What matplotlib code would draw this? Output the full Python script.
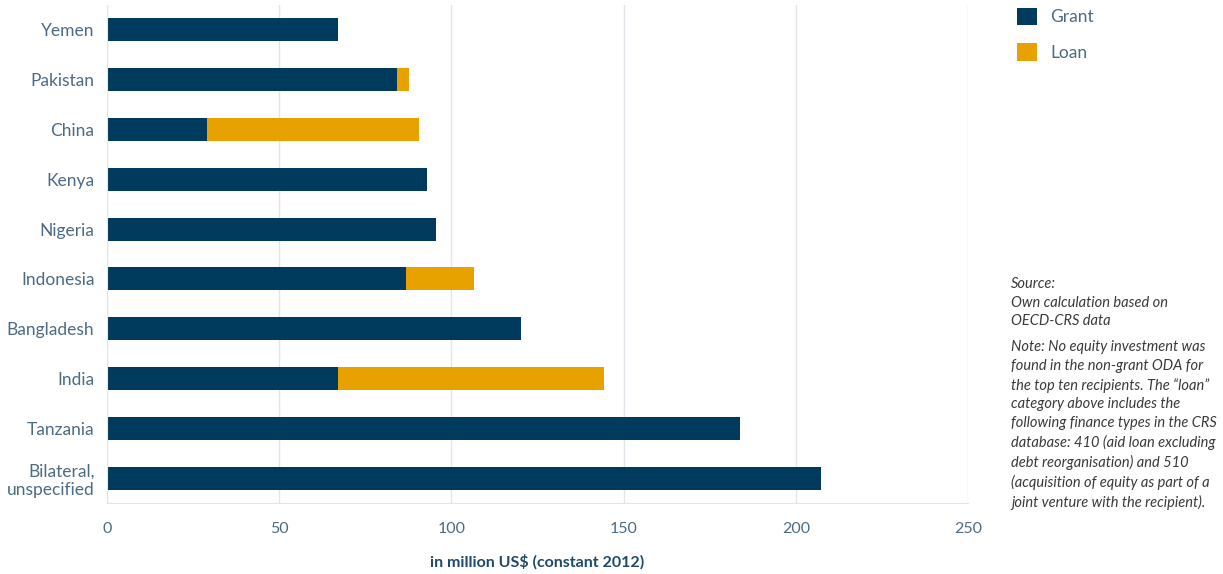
import matplotlib.pyplot as plt
import numpy as np

plt.rcParams['font.family'] = 'Lato'

# Data (bottom to top)
countries = ["Bilateral,\nunspecified", "Tanzania", "India", "Bangladesh",
             "Indonesia", "Nigeria", "Kenya", "China", "Pakistan", "Yemen"]
grant = [207.3, 183.7, 67.2, 120.2, 86.8, 95.4, 93.0, 29.1, 84.1, 67.2]
loan = [0, 0, 77.2, 0, 19.8, 0, 0, 61.4, 3.6, 0]
ticks = [0, 50, 100, 150, 200, 250]

navy = '#003b5e'
gold = '#e8a200'
label_col = '#4b6b86'

fig = plt.figure(figsize=(12.23, 5.74), dpi=100)
ax = fig.add_axes([107/1223, 1 - 503/574, 861/1223, 498/574])

y = np.arange(len(countries))
ax.barh(y, grant, height=0.46, color=navy, label='Grant')
ax.barh(y, loan, left=grant, height=0.46, color=gold, label='Loan')

ax.set_xlim(0, 250)
ax.set_ylim(-0.5, 9.5)
ax.set_yticks(y)
ax.set_yticklabels(countries, fontsize=12.5, color=label_col, ha='right')
ax.set_xticks(ticks)
ax.set_xticklabels([str(t) for t in ticks], fontsize=11.5, color=label_col)
ax.tick_params(length=0)
ax.tick_params(axis='x', pad=14)
ax.tick_params(axis='y', pad=9)

ax.grid(axis='x', color='#e2e5ea', linewidth=1)
ax.set_axisbelow(True)
for s in ['top', 'right']:
    ax.spines[s].set_visible(False)
for s in ['left', 'bottom']:
    ax.spines[s].set_color('#e2e5ea')

ax.set_xlabel('in million US$ (constant 2012)', fontsize=11.5, fontweight='bold',
              color='#1f4a6b', labelpad=13)

# Legend
fig.legend(loc='upper left', bbox_to_anchor=(1001/1223, 1.014), frameon=False,
           fontsize=12.5, labelcolor=label_col, handlelength=1.2, handleheight=1.2,
           labelspacing=1.0, handletextpad=0.75)

# Notes
note_col = '#3a3a3a'
fig.text(1011/1223, 1 - 277/574,
         "Source:\nOwn calculation based on\nOECD-CRS data",
         fontsize=10.5, style='italic', color=note_col, va='top', linespacing=1.42)
fig.text(1011/1223, 1 - 340/574,
         "Note: No equity investment was\nfound in the non-grant ODA for\n"
         "the top ten recipients. The \u201cloan\u201d\ncategory above includes the\n"
         "following finance types in the CRS\ndatabase: 410 (aid loan excluding\n"
         "debt reorganisation) and 510\n(acquisition of equity as part of a\n"
         "joint venture with the recipient).",
         fontsize=10.5, style='italic', color=note_col, va='top', linespacing=1.42)

fig.savefig('out.png', dpi=100)
